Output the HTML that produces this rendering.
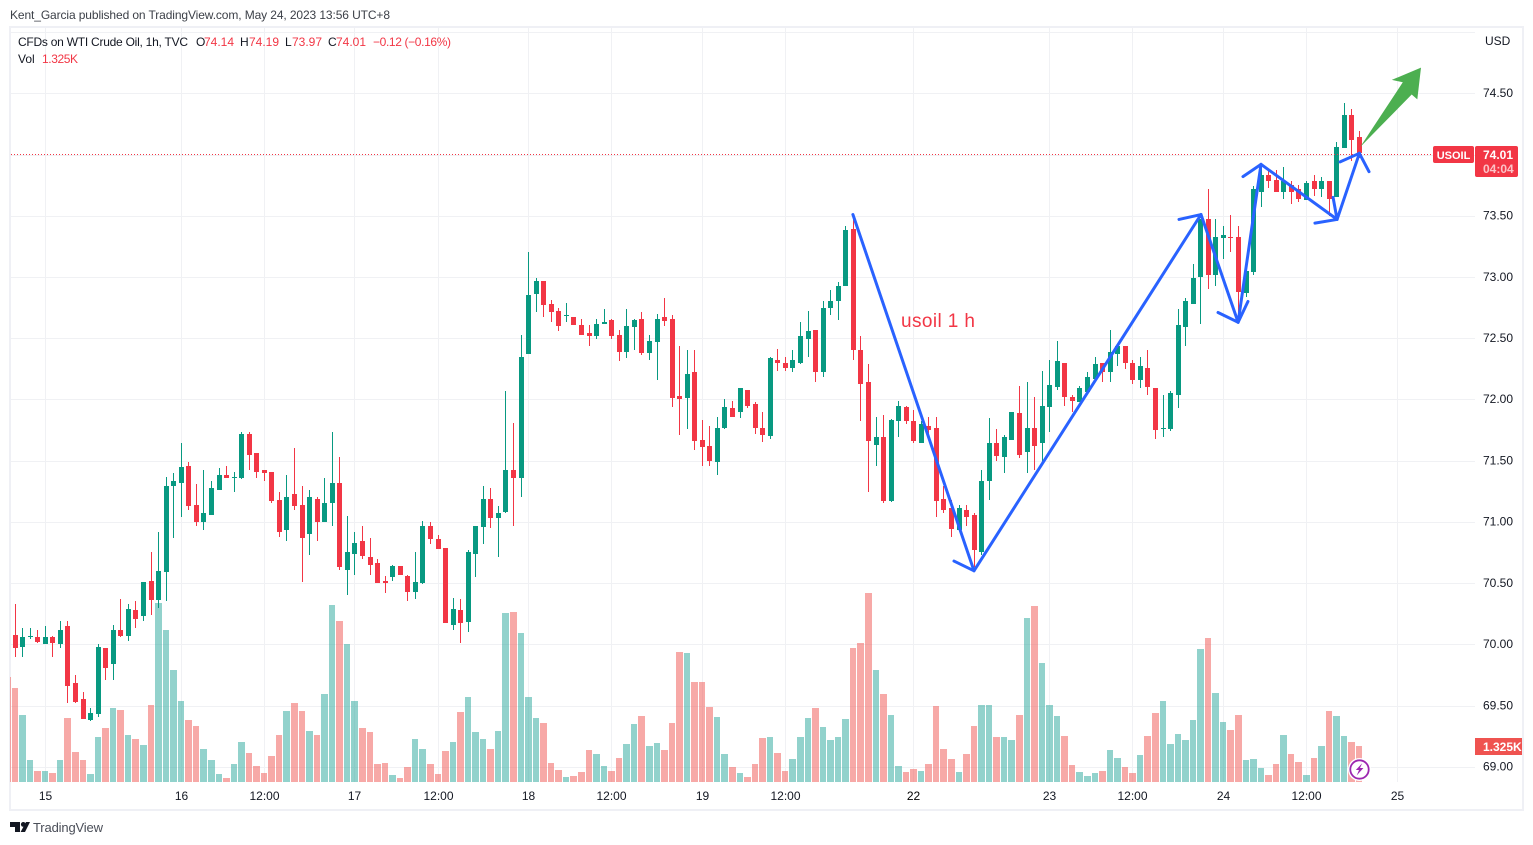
<!DOCTYPE html>
<html lang="en">
<head>
<meta charset="utf-8">
<title>USOIL 1h chart</title>
<style>
html,body{margin:0;padding:0;background:#fff;width:1533px;height:845px;overflow:hidden}
svg{display:block;font-family:"Liberation Sans",sans-serif}
text{fill:#131722;font-size:12px}
</style>
</head>
<body>
<svg id="chart" width="1533" height="845" viewBox="0 0 1533 845" xmlns="http://www.w3.org/2000/svg">
  <rect x="0" y="0" width="1533" height="845" fill="#fff"/>
  <text x="10" y="19" textLength="380" lengthAdjust="spacing" style="fill:#3c4048">Kent_Garcia published on TradingView.com, May 24, 2023 13:56 UTC+8</text>
  <rect x="10" y="27" width="1513" height="783" fill="none" stroke="#eff0f5" stroke-width="2"/>
  <g id="grid" shape-rendering="crispEdges"></g>
  <g id="volumes" shape-rendering="crispEdges"></g>
  <g id="candles" shape-rendering="crispEdges"></g>
  <line id="last-price-line" x1="11" x2="1433" stroke="#f23645" stroke-width="1" stroke-dasharray="1 2" shape-rendering="crispEdges"/>
  <g id="drawings"></g>
  <text x="901" y="327" textLength="74" lengthAdjust="spacing" style="font-size:19px;fill:#f23645">usoil 1 h</text>

  <g>
    <text x="18" y="46" textLength="170" lengthAdjust="spacing">CFDs on WTI Crude Oil, 1h, TVC</text>
    <text x="196" y="46">O</text>
    <text x="204" y="46" style="fill:#f23645">74.14</text>
    <text x="240" y="46">H</text>
    <text x="249" y="46" style="fill:#f23645">74.19</text>
    <text x="285" y="46">L</text>
    <text x="292" y="46" style="fill:#f23645">73.97</text>
    <text x="328" y="46">C</text>
    <text x="336" y="46" style="fill:#f23645">74.01</text>
    <text x="373" y="46" textLength="78" lengthAdjust="spacing" style="fill:#f23645">−0.12 (−0.16%)</text>
    <text x="18" y="63">Vol</text>
    <text x="42" y="63" textLength="36" lengthAdjust="spacing" style="fill:#f23645">1.325K</text>
  </g>

  <text x="1485" y="45">USD</text>
  <g id="price-labels"></g>
  <g id="time-labels"></g>

  <g>
    <rect x="1433" y="146" width="41" height="17" rx="2" fill="#f23645"/>
    <text x="1453.5" y="159" text-anchor="middle" style="fill:#fff;font-weight:bold;font-size:11px">USOIL</text>
    <rect x="1475" y="146" width="43" height="31" rx="2" fill="#f23645"/>
    <text x="1483" y="159" style="fill:#fff;font-weight:bold">74.01</text>
    <text x="1483" y="173" style="fill:#fbc3c7;font-weight:bold">04:04</text>
  </g>
  <g>
    <rect x="1475" y="738" width="47" height="17" fill="#ef5350"/>
    <text x="1483" y="751" style="fill:#fff;font-weight:bold">1.325K</text>
  </g>

  <g>
    <circle cx="1359.5" cy="769.5" r="11.5" fill="#fff"/>
    <circle cx="1359.5" cy="769.5" r="9.2" fill="#fff" stroke="#9c27b0" stroke-width="1.8"/>
    <polygon points="1362.2,763.3 1355.8,770 1359,770 1356.7,775.5 1363.4,768 1360,768" fill="#9c27b0"/>
  </g>

  <g fill="#131722">
    <path d="M10 822h10v10h-5v-5h-5z"/>
    <circle cx="23.3" cy="824.4" r="2.4"/>
    <polygon points="26,822 30,822 25,832 20.6,832"/>
    <text x="33" y="832" textLength="70" lengthAdjust="spacing" style="font-size:13px;fill:#4a4e58">TradingView</text>
  </g>
</svg>

<script>
// ---- chart data ----
const opens = [
70.08,69.98,70.06,70.06,70.00,70.06,70.00,70.15,69.68,69.55,
69.38,69.43,69.97,69.84,70.12,70.07,70.28,70.23,70.52,70.36,
70.59,71.29,71.32,71.46,71.14,71.00,71.06,71.26,71.38,71.36,
71.36,71.72,71.56,71.42,71.41,71.18,70.93,71.23,71.14,70.90,
71.19,71.00,71.15,71.32,70.61,70.74,70.84,70.71,70.66,70.52,
70.55,70.64,70.56,70.43,70.50,70.97,70.86,70.79,70.16,70.28,
70.18,70.74,70.96,71.19,71.03,71.08,71.42,71.36,72.37,72.86,
72.97,72.78,72.72,72.68,72.67,72.61,72.54,72.52,72.62,72.65,
72.53,72.39,72.59,72.66,72.38,72.47,72.67,72.66,72.03,72.01,
72.22,71.67,71.62,71.49,71.77,71.93,71.90,72.08,71.96,71.77,
71.70,72.32,72.30,72.26,72.30,72.49,72.57,72.22,72.75,72.80,
72.93,73.39,72.40,72.14,71.63,71.69,71.17,71.82,71.94,71.82,
71.64,71.78,71.77,71.19,71.11,70.93,71.10,71.06,70.75,71.33,
71.64,71.53,71.67,71.89,71.57,71.77,71.64,71.94,72.10,72.30,
72.02,71.98,72.06,72.17,72.30,72.22,72.37,72.44,72.30,72.16,
72.26,72.09,71.76,71.76,72.04,72.59,72.78,73.00,73.47,73.02,
73.32,73.33,73.33,72.87,73.04,73.69,73.83,73.79,73.69,73.75,
73.72,73.63,73.78,73.72,73.78,73.65,74.05,74.32,74.14];
const highs = [
70.33,70.13,70.13,70.12,70.15,70.07,70.19,70.19,69.75,69.61,
69.48,70.00,69.97,70.16,70.37,70.33,70.35,70.51,70.75,70.92,
71.37,71.40,71.64,71.49,71.31,71.42,71.33,71.44,71.46,71.41,
71.73,71.73,71.56,71.42,71.41,71.24,71.38,71.60,71.29,71.26,
71.20,71.36,71.73,71.53,71.05,70.92,70.97,70.87,70.70,70.56,
70.65,70.64,70.57,70.75,71.01,71.00,70.89,70.79,70.38,70.37,
70.77,70.97,71.29,71.28,71.13,72.07,71.81,72.53,73.20,72.99,
72.97,72.81,72.75,72.79,72.67,72.66,72.61,72.66,72.74,72.66,
72.57,72.74,72.66,72.71,72.53,72.70,72.83,72.69,72.44,72.40,
72.40,71.83,71.78,71.86,72.00,71.99,72.09,72.08,71.98,71.90,
72.35,72.41,72.35,72.40,72.63,72.72,72.57,72.80,72.89,72.96,
73.42,73.51,72.52,72.29,71.86,71.87,71.84,71.99,71.95,71.91,
71.82,71.86,71.86,71.29,71.18,71.14,71.14,71.07,71.42,71.85,
71.76,71.71,71.90,72.11,72.14,72.02,72.23,72.32,72.48,72.30,
72.04,72.11,72.22,72.35,72.30,72.57,72.44,72.44,72.32,72.35,
72.40,72.09,72.04,72.07,72.74,72.83,73.11,73.47,73.72,73.47,
73.42,73.51,73.42,73.05,73.74,73.91,73.88,73.87,73.90,73.78,
73.75,73.78,73.83,73.82,73.78,74.10,74.42,74.37,74.19];
const lows = [
69.90,69.90,70.04,70.01,70.00,69.90,69.97,69.52,69.52,69.39,
69.37,69.41,69.71,69.71,70.06,70.03,70.13,70.19,70.24,70.30,
70.35,70.87,71.04,71.10,70.97,70.93,71.06,71.26,71.36,71.24,
71.35,71.42,71.36,71.33,71.15,70.88,70.84,71.10,70.51,70.73,
70.84,71.00,70.97,70.61,70.40,70.57,70.70,70.57,70.50,70.42,
70.52,70.57,70.35,70.37,70.49,70.82,70.78,70.17,70.12,70.01,
70.10,70.55,70.82,70.95,70.71,71.07,70.97,71.20,72.37,72.71,
72.67,72.63,72.56,72.63,72.61,72.53,72.44,72.49,72.62,72.49,
72.31,72.34,72.40,72.36,72.32,72.16,72.60,71.94,71.71,71.76,
71.59,71.46,71.46,71.38,71.76,71.86,71.85,71.93,71.72,71.65,
71.68,72.23,72.23,72.22,72.29,72.35,72.14,72.18,72.69,72.65,
72.93,72.32,71.82,71.24,71.46,71.15,71.16,71.69,71.80,71.64,
71.64,71.67,71.04,71.07,70.88,70.93,70.97,70.63,70.73,71.18,
71.50,71.40,71.67,71.52,71.40,71.42,71.49,71.73,72.08,71.95,
71.90,71.98,72.06,72.17,72.14,72.14,72.27,72.25,72.13,72.09,
72.04,71.68,71.69,71.74,71.93,72.44,72.78,72.62,72.90,72.93,
73.15,73.20,72.63,72.84,73.02,73.57,73.73,73.69,73.64,73.60,
73.61,73.63,73.66,73.65,73.50,73.65,74.05,73.95,73.97];
const closes = [
69.97,70.06,70.07,70.02,70.06,70.01,70.12,69.66,69.53,69.39,
69.44,69.98,69.81,70.12,70.07,70.29,70.21,70.51,70.36,70.60,
71.29,71.33,71.45,71.13,71.00,71.07,71.28,71.38,71.36,71.37,
71.72,71.55,71.41,71.40,71.17,70.92,71.20,71.13,70.87,71.20,
71.00,71.15,71.32,70.63,70.75,70.83,70.72,70.65,70.50,70.50,
70.64,70.57,70.43,70.51,70.97,70.86,70.78,70.17,70.29,70.17,
70.75,70.97,71.19,71.03,71.07,71.42,71.36,72.35,72.85,72.97,
72.77,72.71,72.60,72.69,72.61,72.53,72.52,72.62,72.63,72.52,
72.39,72.60,72.65,72.38,72.48,72.66,72.64,72.01,72.00,72.21,
71.66,71.61,71.50,71.77,71.94,71.86,72.09,71.95,71.77,71.71,
72.34,72.30,72.26,72.32,72.52,72.56,72.22,72.75,72.80,72.93,
73.38,72.40,72.13,71.66,71.69,71.17,71.83,71.95,71.82,71.66,
71.80,71.75,71.17,71.10,70.94,71.11,71.04,70.77,71.33,71.64,
71.54,71.69,71.90,71.55,71.77,71.62,71.95,72.12,72.31,72.02,
71.99,72.09,72.18,72.29,72.22,72.39,72.44,72.30,72.16,72.27,
72.10,71.75,71.77,72.05,72.61,72.80,72.99,73.47,73.02,73.33,
73.34,73.32,72.88,73.05,73.72,73.83,73.78,73.69,73.78,73.69,
73.64,73.77,73.72,73.78,73.64,74.06,74.32,74.12,74.01];
const volumes = [
3459,2466,810,405,405,331,810,2355,1104,810,
294,1656,1987,2723,2650,1730,1582,1362,2834,6587,
5594,4122,2981,2282,2061,1214,810,294,147,662,
1472,1067,589,331,957,1730,2613,2907,2613,1877,
1730,3238,6514,5925,5078,2981,1987,1840,662,699,
258,147,552,1582,1214,662,294,1141,1472,2576,
3128,1840,1582,1214,1877,6219,6256,5483,3128,2355,
2171,699,442,184,221,368,1178,1030,589,405,
883,1398,2134,2429,1325,1435,1178,2171,4784,4747,
3680,3680,2760,2392,1030,552,331,184,662,1619,
1656,1067,405,846,1656,2355,2723,2024,1546,1656,
2318,4931,5115,6955,4122,3238,2466,589,368,478,
405,662,2797,1214,846,368,1030,2061,2834,2834,
1656,1656,1546,2466,6035,6477,4379,2834,2429,1693,
626,368,221,331,405,1178,883,552,331,994,
1693,2539,2981,1398,1766,1546,2282,4894,5299,3275,
2208,1914,2466,810,846,515,258,662,1730,1030,
736,258,883,1325,2613,2429,1693,1472,1325];
const prevBarVolume = 3864;
const priceTicks = [69,69.5,70,70.5,71,71.5,72,72.5,73,73.5,74,74.5];
const priceTickLabels = ["69.00","69.50","70.00","70.50","71.00","71.50","72.00","72.50","73.00","73.50","74.00","74.50"];
const topGridPrice = 75;
const timeTickBars = [4,22,33,45,56,68,79,91,102,119,137,148,160,171,183];
const timeTickLabels = ["15","16","12:00","17","12:00","18","12:00","19","12:00","22","23","12:00","24","12:00","25"];
const emphasisedTimeTicks = ["22"];
const lastPrice = 74.01;

// blue drawn path (bar index, price)
const trendBars = [110.9,126.93,156.99,161.9,164.93,175,177.95];
const trendPrices = [73.51,70.60,73.51,72.63,73.92,73.47,74.01];
// arrow barbs: which trend vertex they attach to, and where they end
const barbVertex = [1,2,3,3,4,5,5,6,6];
const barbBars = [124.28,154.07,159.24,163.2,162.54,172.07,174.47,175.4,179.23];
const barbPrices = [70.68,73.47,72.71,72.80,73.82,73.44,73.65,73.94,73.86];
// green arrow outline
const greenArrowBars = [178.03,183.7,182.24,186.11,185.62,184.88];
const greenArrowPrices = [74.06,74.59,74.61,74.71,74.45,74.49];

// ---- axis functions ----
const NS = "http://www.w3.org/2000/svg";
const PRICE_70_Y = 644.3, PX_PER_UNIT = 122.44;
const VOL_BASE_Y = 782, VOL_PX_PER_UNIT = 36 / 1325;
function yOf(p){ return PRICE_70_Y + (70 - p) * PX_PER_UNIT; }
function ySnap(p){ return Math.round(yOf(p)); }
function xOf(i){ return Math.floor(15.1 + 7.552 * i); }
function xDraw(i){ return 15.3 + 7.553 * i; }
function hVol(v){ return v * VOL_PX_PER_UNIT; }
function mk(tag, attrs, parent){
  const el = document.createElementNS(NS, tag);
  for (const k in attrs) el.setAttribute(k, attrs[k]);
  parent.appendChild(el);
  return el;
}

const gridG = document.getElementById("grid");
const volG = document.getElementById("volumes");
const candleG = document.getElementById("candles");
const drawG = document.getElementById("drawings");
const priceG = document.getElementById("price-labels");
const timeG = document.getElementById("time-labels");
const GRID_COLOR = "#f0f1f4";

// grid
priceTicks.concat([topGridPrice]).forEach(function(p){
  const l = mk("rect", {x:11, y:ySnap(p), width:1464, height:1, fill:GRID_COLOR}, gridG);
  
  
});
timeTickBars.forEach(function(b){
  const l = mk("rect", {x:xOf(b), y:28, width:1, height:VOL_BASE_Y-28, fill:GRID_COLOR}, gridG);
  
  
});

// price labels
priceTicks.forEach(function(p, i){
  const t = mk("text", {x:1483, y:yOf(p)+3.8}, priceG);
  t.textContent = priceTickLabels[i];
  
  
});

// time labels
timeTickBars.forEach(function(b, i){
  const label = timeTickLabels[i];
  const t = mk("text", {x:xOf(b)+0.5, y:800, "text-anchor":"middle"}, timeG);
  t.textContent = label;
  if (emphasisedTimeTicks.indexOf(label) >= 0) t.style.fill = "#000";
  
  
});

// clipped volume bar before the first candle
const prevH = hVol(prevBarVolume);
const prevBar = mk("rect", {x:10, y:Math.round(VOL_BASE_Y-prevH), width:1, height:Math.round(prevH), fill:"#ef5350", "fill-opacity":0.5}, volG);



// volume bars
volumes.forEach(function(v, i){
  const up = closes[i] >= opens[i];
  const left = xOf(i) - 3;
  const right = xOf(i + 1) - 4;
  const h = hVol(v);
  const bar = mk("rect", {x:left, y:Math.round(VOL_BASE_Y-h), width:right-left, height:Math.round(h),
    fill:up ? "#26a69a" : "#ef5350", "fill-opacity":0.5}, volG);
  
  
});

// candles
opens.forEach(function(o, i){
  const c = closes[i], up = c >= o;
  const col = up ? "#089981" : "#f23645";
  const x = xOf(i);
  const top = ySnap(Math.max(o, c)), bot = ySnap(Math.min(o, c));
  const yh = ySnap(highs[i]), yl = ySnap(lows[i]);
  const wick = mk("rect", {x:x, y:yh, width:1, height:Math.max(1, yl-yh), fill:col}, candleG);
  
  
  const body = mk("rect", {x:x-2, y:top, width:5, height:Math.max(1, bot-top), fill:col}, candleG);
  
  
});

// last price line
const lp = document.getElementById("last-price-line");
const lpY = ySnap(lastPrice) + 1.5;
lp.setAttribute("y1", lpY);
lp.setAttribute("y2", lpY);

// blue path
const trendPts = trendBars.map(function(b, i){ return xDraw(b).toFixed(1) + "," + yOf(trendPrices[i]).toFixed(1); }).join(" ");
const trendLine = mk("polyline", {points:trendPts, fill:"none", stroke:"#2962ff", "stroke-width":3, "stroke-linejoin":"round", "stroke-linecap":"round"}, drawG);


barbVertex.forEach(function(v, i){
  const barb = mk("line", {x1:xDraw(trendBars[v]), y1:yOf(trendPrices[v]), x2:xDraw(barbBars[i]), y2:yOf(barbPrices[i]),
    stroke:"#2962ff", "stroke-width":3, "stroke-linecap":"round"}, drawG);
  
  
});

// green arrow
const greenPts = greenArrowBars.map(function(b, i){ return xDraw(b).toFixed(1) + "," + yOf(greenArrowPrices[i]).toFixed(1); }).join(" ");
const greenArrow = mk("polygon", {points:greenPts, fill:"#4caf50"}, drawG);


</script>
</body>
</html>
